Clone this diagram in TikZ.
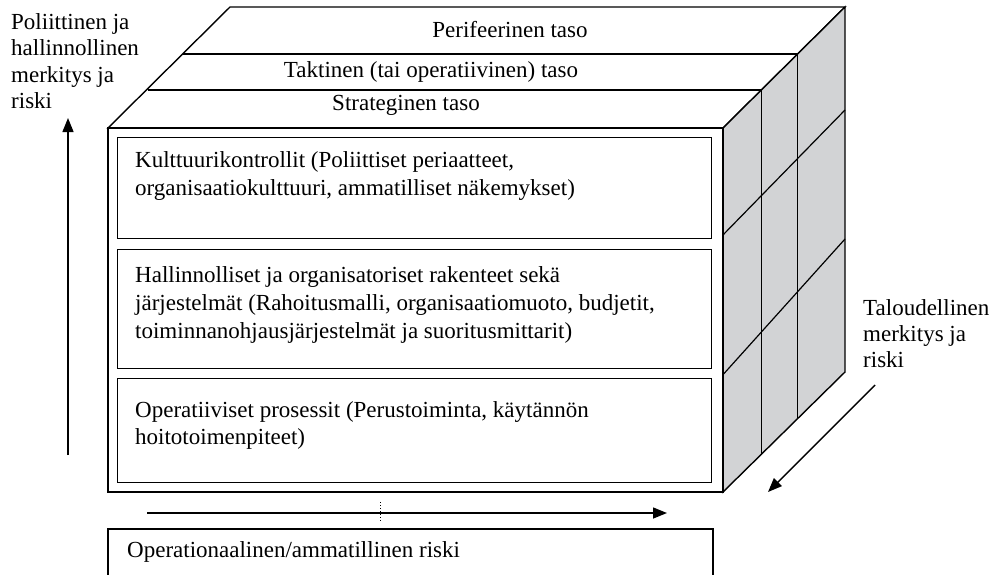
\documentclass[tikz,border=0pt]{standalone}
\usepackage{fontspec}
\setmainfont{Liberation Serif}
\usetikzlibrary{arrows.meta}
\definecolor{sidegray}{RGB}{210,211,213}
\tikzset{
  edge/.style={draw=black, line width=1.4pt, line join=miter},
  thinedge/.style={draw=black, line width=1.2pt},
  boxed/.style={draw=black, line width=1.4pt, fill=white, minimum width=594pt, anchor=north west, inner sep=0pt},
  lbl/.style={font=\fontsize{23}{26.5}\selectfont, align=left, anchor=north west, inner sep=0pt},
  boxtxt/.style={font=\fontsize{23}{28}\selectfont, align=left, anchor=north west, inner sep=0pt},
  toptxt/.style={font=\fontsize{23}{28}\selectfont, anchor=base, inner sep=0pt},
  arr/.style={line width=1.4pt, -{Triangle[length=14pt,width=11pt]}}
}
\begin{document}
\begin{tikzpicture}[x=1pt,y=-1pt]
\useasboundingbox (0,0) rectangle (993,574);
% corner coordinates
\coordinate (ftl) at (108,128);
\coordinate (ftr) at (723,128);
\coordinate (fbr) at (723,492);
\coordinate (fbl) at (108,492);
\coordinate (btl) at (230,7);
\coordinate (btr) at (845,7);
\coordinate (bbr) at (845,372);
% top face
\draw[edge, fill=white] (ftl) -- (btl) -- (btr) -- (ftr) -- cycle;
\coordinate (t1l) at (183.4,54);
\coordinate (t1r) at (797.6,54);
\coordinate (t2l) at (147.7,90);
\coordinate (t2r) at (761.3,90);
\draw[thinedge] (t1l) -- (t1r);
\draw[thinedge] (t2l) -- (t2r);
% side face
\draw[edge, fill=sidegray] (ftr) -- (btr) -- (bbr) -- (fbr) -- cycle;
\coordinate (v1b) at (761.3,454.3);
\coordinate (v2b) at (797.6,418.6);
\draw[thinedge] (t2r) -- (v1b);
\draw[thinedge] (t1r) -- (v2b);
\coordinate (d1a) at (720,238);
\coordinate (d1b) at (845,110);
\coordinate (d2a) at (720,378);
\coordinate (d2b) at (845,239);
\draw[thinedge] (d1a) -- (d1b);
\draw[thinedge] (d2a) -- (d2b);
% front face
\draw[edge, fill=white] (ftl) rectangle (fbr);
\node[boxed, minimum height=101pt] (b1) at (117,137) {};
\node[boxed, minimum height=119pt] (b2) at (117,249) {};
\node[boxed, minimum height=104pt] (b3) at (117,378) {};
% top texts
\node[toptxt] (perif) at (510,37) {Perifeerinen taso};
\node[toptxt] (takt) at (431,77) {Taktinen (tai operatiivinen) taso};
\node[toptxt] (strat) at (406,110) {Strateginen taso};
% box texts
\node[boxtxt] (k1) at (135,151) {Kulttuurikontrollit (Poliittiset periaatteet,\\organisaatiokulttuuri, ammatilliset näkemykset)};
\node[boxtxt] (k2) at (135,266) {Hallinnolliset ja organisatoriset rakenteet sekä\\järjestelmät (Rahoitusmalli, organisaatiomuoto, budjetit,\\toiminnanohjausjärjestelmät ja suoritusmittarit)};
\node[boxtxt, font=\fontsize{23}{27}\selectfont] (k3) at (135,401) {Operatiiviset prosessit (Perustoiminta, käytännön\\hoitotoimenpiteet)};
% left label and arrow
\node[lbl] (pol) at (11,13) {Poliittinen ja\\hallinnollinen\\merkitys ja\\riski};
\coordinate (la0) at (68,455);
\coordinate (la1) at (68,118);
\draw[arr] (la0) -- (la1);
% right label and arrow
\node[lbl, font=\fontsize{23}{26}\selectfont] (tal) at (863,299) {Taloudellinen\\merkitys ja\\riski};
\coordinate (ra0) at (875,385);
\coordinate (ra1) at (768,492);
\draw[arr] (ra0) -- (ra1);
% bottom arrow
\coordinate (ba0) at (147,513);
\coordinate (ba1) at (667,513);
\draw[arr] (ba0) -- (ba1);
\coordinate (dt0) at (380,502);
\coordinate (dt1) at (380,522);
\draw[line width=1pt, dotted] (dt0) -- (dt1);
% bottom box (cut off)
\coordinate (bb0) at (108,580);
\coordinate (bb1) at (108,529);
\coordinate (bb2) at (713,529);
\coordinate (bb3) at (713,580);
\draw[edge] (bb0) -- (bb1) -- (bb2) -- (bb3);
\node[boxtxt] (oprisk) at (127,541) {Operationaalinen/ammatillinen riski};
\end{tikzpicture}
\end{document}
